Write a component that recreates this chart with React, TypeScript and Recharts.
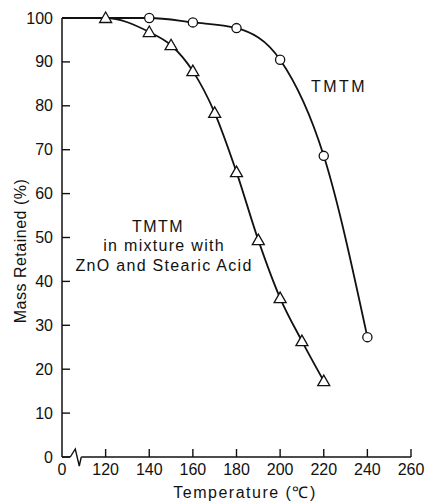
import { LineChart, Line, XAxis, YAxis, ReferenceDot } from "recharts";

const TMTM_TEMP = [100, 140, 160, 180, 200, 220, 240];
const TMTM_MASS = [100, 100, 99, 97.7, 90.5, 68.6, 27.3];
const MIX_TEMP = [100, 120, 140, 150, 160, 170, 180, 190, 200, 210, 220];
const MIX_MASS = [100, 100, 96.8, 93.8, 87.9, 78.4, 64.9, 49.4, 36.2, 26.4, 17.3];
const X_TICKS = [100, 120, 140, 160, 180, 200, 220, 240, 260];
const Y_TICKS = [0, 10, 20, 30, 40, 50, 60, 70, 80, 90, 100];
const MIX_LABEL = ["TMTM", "in mixture with", "ZnO and Stearic Acid"];

const tmtm = TMTM_TEMP.map((t, i) => ({ t, m: TMTM_MASS[i] }));
const mix = MIX_TEMP.map((t, i) => ({ t, m: MIX_MASS[i] }));

const INK = "#111";
const TICK_FONT = "'Liberation Sans Narrow', 'Arial Narrow', 'Liberation Sans', sans-serif";
const TEXT_FONT = "'Liberation Sans', Arial, sans-serif";
const TICK_LEN = 8;
const GAP = 9;

function YTick(p: any) {
  const ax = p.x + GAP;
  return (
    <g>
      <line x1={ax} x2={ax + TICK_LEN} y1={p.y} y2={p.y} stroke={INK} strokeWidth={1.4} />
      <text x={p.x} y={p.y} textAnchor="end" dominantBaseline="central" fontSize={16} fontFamily={TICK_FONT} fill={INK}>
        {p.payload.value}
      </text>
    </g>
  );
}

function XTick(p: any) {
  const ay = p.y - GAP;
  const v = p.payload.value;
  return (
    <g>
      {v !== 100 && (
        <line x1={p.x} x2={p.x} y1={ay} y2={ay - TICK_LEN} stroke={INK} strokeWidth={1.4} />
      )}
      <text x={p.x} y={p.y + 3} textAnchor="middle" dominantBaseline="central" fontSize={16} fontFamily={TICK_FONT} fill={INK}>
        {v === 100 ? "0" : v}
      </text>
    </g>
  );
}

function CircleDot(p: any) {
  if (p.index === 0) return <g key={p.key} />;
  return <circle key={p.key} cx={p.cx} cy={p.cy} r={4.6} fill="#fff" stroke={INK} strokeWidth={1.3} />;
}

function TriDot(p: any) {
  if (p.index === 0) return <g key={p.key} />;
  const { cx, cy } = p;
  return (
    <path
      key={p.key}
      d={`M${cx},${cy - 6} L${cx + 6},${cy + 4.5} L${cx - 6},${cy + 4.5} Z`}
      fill="#fff"
      stroke={INK}
      strokeWidth={1.3}
    />
  );
}

function AxisBreak(p: any) {
  const { cx, cy } = p;
  return (
    <g>
      <rect x={cx - 7} y={cy - 2} width={11} height={4} fill="#fff" />
      <path
        d={`M${cx - 7},${cy} L${cx - 2},${cy - 8} L${cx + 2},${cy + 9} L${cx + 4},${cy}`}
        fill="none"
        stroke={INK}
        strokeWidth={1.4}
      />
    </g>
  );
}

function TmtmText(p: any) {
  return (
    <text x={p.cx} y={p.cy} textAnchor="middle" dominantBaseline="central" fontSize={16} letterSpacing={2.5} fontFamily={TEXT_FONT} fill={INK}>
      TMTM
    </text>
  );
}

function MixText(p: any) {
  return (
    <g>
      {MIX_LABEL.map((s, i) => (
        <text
          key={s}
          x={p.cx + (i === 0 ? -6 : 0)}
          y={p.cy + (i - 1) * 19.5}
          textAnchor="middle"
          dominantBaseline="central"
          fontSize={16}
          letterSpacing={i === 0 ? 1.5 : 1.3}
          fontFamily={TEXT_FONT}
          fill={INK}
        >
          {s}
        </text>
      ))}
    </g>
  );
}

export default function App() {
  return (
    <div style={{ position: "absolute", left: 0, top: 0, background: "#fff" }}>
      <LineChart width={426} height={502} margin={{ top: 18, right: 15, bottom: 0, left: 0 }}>
        <XAxis
          type="number"
          dataKey="t"
          domain={[100, 260]}
          ticks={X_TICKS}
          interval={0}
          height={45}
          tickSize={0}
          tickMargin={GAP}
          tickLine={false}
          tick={<XTick />}
          axisLine={{ stroke: INK, strokeWidth: 1.5 }}
          allowDuplicatedCategory={false}
          label={{
            content: ({ viewBox }: any) => (
              <text
                x={viewBox.x + viewBox.width / 2 + 8.5}
                y={viewBox.y + 35}
                textAnchor="middle"
                dominantBaseline="central"
                fontSize={16}
                letterSpacing={1.5}
                fontFamily={TEXT_FONT}
                fill={INK}
              >
                Temperature (℃)
              </text>
            ),
          }}
        />
        <YAxis
          type="number"
          domain={[0, 100]}
          ticks={Y_TICKS}
          interval={0}
          width={62}
          tickSize={0}
          tickMargin={GAP}
          tickLine={false}
          tick={<YTick />}
          axisLine={{ stroke: INK, strokeWidth: 1.5 }}
          label={{
            content: ({ viewBox }: any) => {
              const cx = viewBox.x + 20;
              const cy = viewBox.y + viewBox.height / 2 + 13.5;
              return (
                <text
                  x={cx}
                  y={cy}
                  transform={`rotate(-90 ${cx} ${cy})`}
                  textAnchor="middle"
                  dominantBaseline="central"
                  fontSize={16}
                  letterSpacing={0.5}
                  fontFamily={TEXT_FONT}
                  fill={INK}
                >
                  Mass Retained (%)
                </text>
              );
            },
          }}
        />
        <Line
          data={tmtm}
          dataKey="m"
          type="monotone"
          stroke={INK}
          strokeWidth={1.8}
          dot={CircleDot}
          activeDot={false}
          isAnimationActive={false}
        />
        <Line
          data={mix}
          dataKey="m"
          type="monotone"
          stroke={INK}
          strokeWidth={1.8}
          dot={TriDot}
          activeDot={false}
          isAnimationActive={false}
        />
        <ReferenceDot x={107} y={0} shape={AxisBreak} />
        <ReferenceDot x={227} y={84.3} shape={TmtmText} />
        <ReferenceDot x={146.8} y={48.1} shape={MixText} />
      </LineChart>
    </div>
  );
}
